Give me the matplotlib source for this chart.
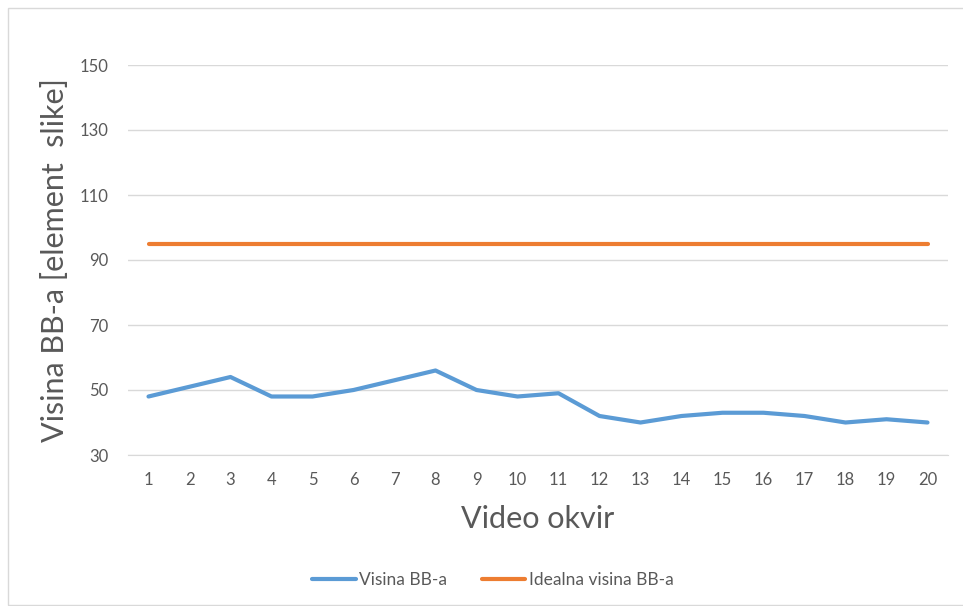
import matplotlib
matplotlib.use('Agg')
import matplotlib.pyplot as plt
from matplotlib.patches import Rectangle
import numpy as np

frames = list(range(1, 21))
visina = [48, 51, 54, 48, 48, 50, 53, 56, 50, 48, 49, 42, 40, 42, 43, 43, 42, 40, 41, 40]
idealna = [95] * 20
yticks = [30, 50, 70, 90, 110, 130, 150]

plt.rcParams['font.family'] = ['Lato', 'DejaVu Sans']

fig = plt.figure(figsize=(9.63, 6.06), dpi=100)
ax = fig.add_axes([128 / 963, 1 - 455 / 606, 820 / 963, 390 / 606])

# chart border
fig.patches.append(Rectangle((8 / 963, 0.002), 0.995, 1 - 8 / 606 - 0.002,
                             transform=fig.transFigure, fill=False,
                             edgecolor='#d9d9d9', linewidth=1))

ax.plot(frames, visina, color='#5b9bd5', linewidth=3, label='Visina BB-a',
        solid_capstyle='round', solid_joinstyle='round')
ax.plot(frames, idealna, color='#ed7d31', linewidth=3, label='Idealna visina BB-a',
        solid_capstyle='round')

ax.set_xlim(0.5, 20.5)
ax.set_ylim(30, 150)
ax.set_yticks(yticks)
ax.set_xticks(frames)
ax.grid(axis='y', color='#d9d9d9', linewidth=1)
ax.set_axisbelow(True)
for s in ['top', 'right', 'left']:
    ax.spines[s].set_visible(False)
ax.spines['bottom'].set_color('#d9d9d9')
ax.tick_params(axis='both', length=0, colors='#595959', labelsize=12)
ax.tick_params(axis='x', pad=12)
ax.tick_params(axis='y', pad=14)

ax.set_xlabel('Video okvir', fontsize=22, color='#595959')
ax.set_ylabel('Visina BB-a [element  slike]', fontsize=22, color='#595959')
ax.xaxis.set_label_coords(0.5, -0.164)
ax.yaxis.set_label_coords(-0.089, 0.5)
ax.xaxis.label.set_va('center')
ax.yaxis.label.set_va('center')

fig.legend(loc='center', bbox_to_anchor=(493 / 963, 1 - 580 / 606), ncol=2, frameon=False,
           fontsize=12.5, labelcolor='#595959', handlelength=2.5, columnspacing=2.0,
           handletextpad=0.2)

fig.savefig('out.png', dpi=100)
